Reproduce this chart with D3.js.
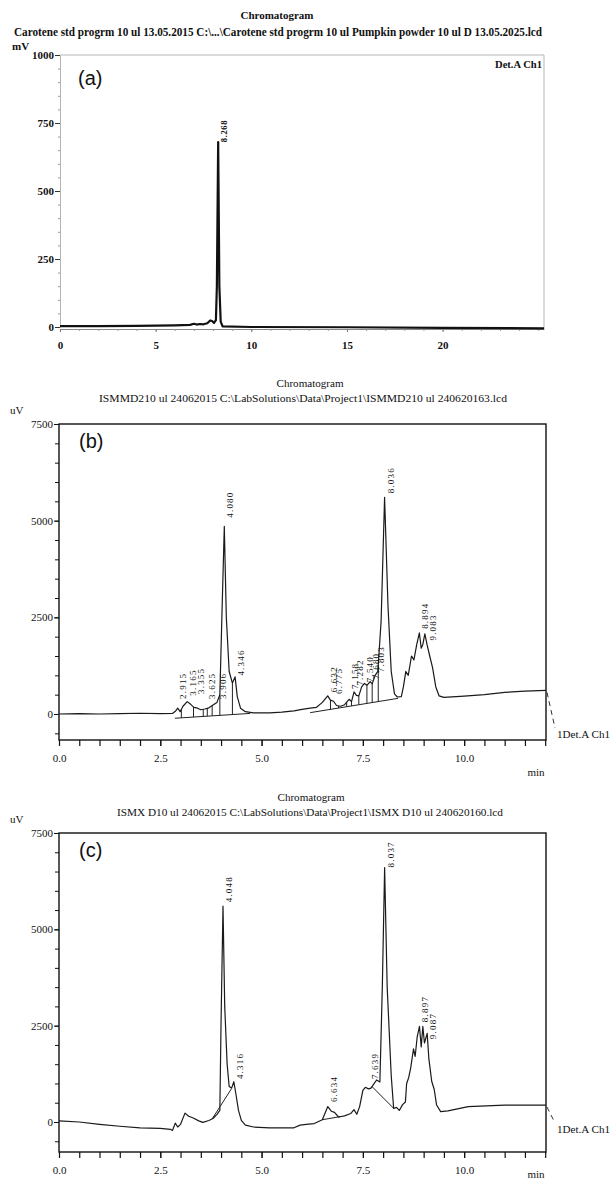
<!DOCTYPE html>
<html>
<head>
<meta charset="utf-8">
<script src="https://cdn.jsdelivr.net/npm/d3@7"></script>
<style>
  body { margin: 0; background: #fff; }
  svg { display: block; }
  text { font-family: "Liberation Serif", "DejaVu Serif", serif; fill: #111; }
  .bold text, text.bold { font-weight: bold; }
  .panel-tag { font-family: "Liberation Sans", Arial, sans-serif; font-size: 20px; }
</style>
</head>
<body>
<svg id="chart" width="611" height="1182"></svg>
<script>
// ---- panel (a): carotene standard, mV ----
const timeA = [0, 2, 4, 5, 6, 6.8, 7.0, 7.15, 7.3, 7.5, 7.7, 7.85, 7.95, 8.05, 8.15, 8.2, 8.268, 8.33, 8.4, 8.5, 10, 15, 20, 25.3];
const mvA   = [3, 3, 4, 5, 6, 8, 12, 9, 11, 10, 14, 24, 22, 15, 25, 150, 680, 150, 20, 2, 0, -1, -3, -5];
const peakRtA = [8.268];
const peakLabelA = [676];
const xTicksA = [0, 5, 10, 15, 20];
const yTicksA = [0, 250, 500, 750, 1000];

// ---- panel (b): ISMMD210, uV ----
const timeB = [0, 0.5, 1.0, 1.5, 2.0, 2.5, 2.8, 2.88, 2.93, 2.99, 3.06, 3.165, 3.25, 3.33, 3.42, 3.5, 3.6, 3.7, 3.8, 3.9, 3.97,
  4.02, 4.08, 4.13, 4.2, 4.28, 4.346, 4.4, 4.48, 4.6, 4.8, 5.2, 5.5, 5.8, 6.0, 6.2, 6.35, 6.5, 6.632, 6.7, 6.775, 6.85, 6.95,
  7.05, 7.158, 7.22, 7.282, 7.34, 7.40, 7.47, 7.54, 7.60, 7.68, 7.73, 7.803, 7.87, 7.95, 8.036, 8.12, 8.2, 8.28, 8.35, 8.45,
  8.5, 8.56, 8.62, 8.7, 8.76, 8.83, 8.894, 8.94, 8.98, 9.03, 9.083, 9.15, 9.22, 9.3, 9.38, 9.5, 10.0, 10.5, 11.0, 11.5, 12.02];
const uvB = [0, 10, 0, 10, 20, 10, 15, 80, 150, 60, 200, 320, 250, 170, 150, 110, 130, 160, 230, 300, 500,
  2500, 4850, 2500, 1100, 800, 960, 450, 150, 60, 30, 30, 50, 80, 120, 150, 170, 300, 470, 360, 330, 220, 200,
  240, 380, 320, 570, 480, 470, 700, 790, 740, 840, 780, 1000, 1100, 2400, 5600, 2800, 1100, 520, 440, 450,
  700, 1100, 1000, 1500, 1400, 1800, 2100, 1700, 1800, 2070, 1800, 1500, 1200, 700, 470, 430, 460, 500, 560, 590, 610];
const peakRtB = [2.915, 3.165, 3.355, 3.625, 3.906, 4.080, 4.346, 6.632, 6.775, 7.158, 7.282, 7.540, 7.680, 7.803, 8.036, 8.894, 9.083];
const peakLabelB = [363, 449, 492, 363, 363, 5050, 967, 535, 492, 622, 708, 795, 881, 1054, 5680, 2176, 1874];
// integration baselines [t0, v0, t1, v1] and drop lines [t, top, bottom]
const baseSegB = [[2.86, -110, 4.72, 15], [6.2, 35, 8.37, 405]];
const dropB = [[3.02, 120, -99], [3.32, 180, -79], [3.56, 120, -63], [3.66, 150, -56], [3.78, 215, -48], [3.97, 500, -35], [4.28, 800, -15],
  [6.70, 360, 120], [6.90, 210, 154], [7.10, 300, 188], [7.22, 320, 209], [7.40, 470, 240], [7.60, 740, 274], [7.73, 780, 296], [7.88, 1260, 322]];

// ---- panel (c): ISMX D10, uV ----
const timeC = [0, 0.5, 1.0, 1.5, 2.0, 2.5, 2.75, 2.8, 2.87, 2.93, 3.0, 3.11, 3.2, 3.3, 3.45, 3.55, 3.7, 3.8, 3.9, 3.97,
  4.0, 4.048, 4.09, 4.15, 4.2, 4.26, 4.316, 4.37, 4.43, 4.5, 4.6, 4.8, 5.2, 5.8, 5.95, 6.1, 6.3, 6.5, 6.634, 6.72, 6.8, 6.9,
  7.05, 7.2, 7.28, 7.35, 7.42, 7.5, 7.56, 7.639, 7.7, 7.78, 7.84, 7.92, 7.98, 8.037, 8.1, 8.2, 8.26, 8.33, 8.4, 8.48, 8.55,
  8.58, 8.63, 8.68, 8.75, 8.79, 8.84, 8.897, 8.94, 8.98, 9.02, 9.087, 9.13, 9.2, 9.26, 9.32, 9.42, 9.6, 10.1, 11.0, 12.02];
const uvC = [30, 0, -60, -110, -150, -165, -190, -220, -30, -130, -60, 230, 150, 110, 30, -10, 40, 90, 200, 300,
  2600, 5600, 3000, 1500, 920, 880, 1045, 700, 300, 40, -80, -130, -150, -150, -80, -60, -40, 60, 400, 280, 250, 130,
  160, 220, 320, 200, 400, 820, 900, 860, 880, 1000, 1090, 1040, 3500, 6600, 3500, 1200, 350, 380, 300, 450, 520,
  1000, 1150, 1400, 1900, 1700, 2200, 2480, 1950, 2480, 2050, 2300, 1630, 1050, 850, 440, 270, 290, 400, 440, 440];
const peakRtC = [4.048, 4.316, 6.634, 7.639, 8.037, 8.897, 9.087];
const peakLabelC = [5674, 1088, 490, 1088, 6580, 2565, 2124];
const baseSegC = [[3.78, 80, 4.26, 870], [6.5, 60, 6.95, 140], [7.73, 915, 8.26, 355]];
const dropC = [];

const xTicksLC = [0, 2.5, 5, 7.5, 10];
const yTicksLC = [0, 2500, 5000, 7500];

const svg = d3.select('#chart');

function addTrace(g, x, y, times, vals, stroke, width) {
  const line = d3.line()
    .x((d, i) => x(times[i]))
    .y(d => y(d));
  g.append('path')
    .datum(vals)
    .attr('d', line)
    .attr('fill', 'none')
    .attr('stroke', stroke)
    .attr('stroke-width', width)
    .attr('stroke-linejoin', 'round');
}

function addPeakLabels(g, x, y, rts, levels, opts) {
  g.selectAll(null)
    .data(rts)
    .join('text')
    .attr('transform', (d, i) => `translate(${x(d) + opts.dx},${y(levels[i]) - 1}) rotate(-90)`)
    .attr('text-anchor', 'start')
    .style('font-size', opts.size + 'px')
    .style('font-weight', opts.bold ? 'bold' : 'normal')
    .style('letter-spacing', opts.spacing + 'px')
    .text(d => d3.format('.3f')(d));
}

// ================= panel (a) =================
(function drawA() {
  const g = svg.append('g');
  const x = d3.scaleLinear().domain([0, 25.3]).range([60, 544]);
  const y = d3.scaleLinear().domain([0, 1000]).range([327, 55]);
  const axisY = 329;

  g.append('text').attr('class', 'bold').attr('x', 277).attr('y', 19)
    .attr('text-anchor', 'middle').style('font-size', '11px')
    .attr('textLength', 73).attr('lengthAdjust', 'spacingAndGlyphs')
    .text('Chromatogram');
  g.append('text').attr('class', 'bold').attr('x', 14).attr('y', 36)
    .style('font-size', '11.5px')
    .attr('textLength', 528).attr('lengthAdjust', 'spacingAndGlyphs')
    .text('Carotene std progrm  10 ul  13.05.2015 C:\\...\\Carotene std progrm  10 ul  Pumpkin powder 10 ul D 13.05.2025.lcd');
  g.append('text').attr('class', 'bold').attr('x', 12).attr('y', 50)
    .style('font-size', '11px').text('mV');

  // frame (faint)
  g.append('path')
    .attr('d', `M${x(0)},${y(1000)}H${x(25.3)}V${axisY}`)
    .attr('fill', 'none').attr('stroke', '#b5b5b5').attr('stroke-width', 1);

  // y axis
  const yMinor = g.append('g').attr('transform', `translate(${x(0)},0)`)
    .call(d3.axisLeft(y).tickValues(d3.range(0, 1001, 50)).tickSize(2).tickSizeOuter(0).tickFormat(''));
  yMinor.select('.domain').attr('stroke', '#b5b5b5');
  yMinor.selectAll('line').attr('stroke', '#999');
  const yMajor = g.append('g').attr('transform', `translate(${x(0)},0)`)
    .call(d3.axisLeft(y).tickValues(yTicksA).tickSize(5).tickSizeOuter(0).tickPadding(1).tickFormat(d3.format('d')));
  yMajor.select('.domain').remove();
  yMajor.selectAll('line').attr('stroke', '#333');
  yMajor.selectAll('text').style('font-size', '11px').style('font-weight', 'bold')
    .style('font-family', '"Liberation Serif", serif').attr('fill', '#111');

  // x axis
  const xMinor = g.append('g').attr('transform', `translate(0,${axisY})`)
    .call(d3.axisBottom(x).tickValues(d3.range(0, 25.3, 1)).tickSize(2).tickSizeOuter(0).tickFormat(''));
  xMinor.select('.domain').attr('stroke', '#888');
  xMinor.selectAll('line').attr('stroke', '#999');
  const xMajor = g.append('g').attr('transform', `translate(0,${axisY})`)
    .call(d3.axisBottom(x).tickValues(xTicksA).tickSize(3).tickSizeOuter(0).tickPadding(9).tickFormat(d3.format('d')));
  xMajor.select('.domain').remove();
  xMajor.selectAll('line').attr('stroke', '#777');
  xMajor.selectAll('text').style('font-size', '11px').style('font-weight', 'bold')
    .style('font-family', '"Liberation Serif", serif').attr('fill', '#111');

  addTrace(g, x, y, timeA, mvA, '#111', 2.2);
  addPeakLabels(g, x, y, peakRtA, peakLabelA, { dx: 9, size: 8.5, bold: true, spacing: 0.6 });

  g.append('text').attr('class', 'bold').attr('x', 542).attr('y', 68)
    .attr('text-anchor', 'end').style('font-size', '10.5px')
    .attr('textLength', 47).attr('lengthAdjust', 'spacingAndGlyphs').text('Det.A Ch1');
  g.append('text').attr('class', 'panel-tag').attr('x', 78).attr('y', 85).text('(a)');
})();

// ================= panels (b) and (c) =================
function drawLC(cfg) {
  const g = svg.append('g');
  const x = d3.scaleLinear().domain([0, 12.02]).range([59, 546]);
  const y = d3.scaleLinear().domain([0, 7500]).range([cfg.zeroY, cfg.top]);
  const left = x(0), right = x(12.02);

  g.append('text').attr('x', cfg.titleX).attr('y', cfg.titleY)
    .attr('text-anchor', 'middle').style('font-size', '11px')
    .attr('textLength', 67).attr('lengthAdjust', 'spacingAndGlyphs').text('Chromatogram');
  g.append('text').attr('x', cfg.subX).attr('y', cfg.titleY + 15)
    .style('font-size', '11px')
    .attr('textLength', cfg.subW).attr('lengthAdjust', 'spacingAndGlyphs').text(cfg.subtitle);
  g.append('text').attr('x', 10).attr('y', cfg.top - 10).style('font-size', '11px').text('uV');

  // y axis ticks every 500 uV, labels at the majors
  const yMinor = g.append('g').attr('transform', `translate(${left},0)`)
    .call(d3.axisLeft(y).tickValues(d3.range(-500, 7501, 500)).tickSize(4).tickSizeOuter(0).tickFormat(''));
  yMinor.select('.domain').remove();
  yMinor.selectAll('line').attr('stroke', '#111');
  const yMajor = g.append('g').attr('transform', `translate(${left},0)`)
    .call(d3.axisLeft(y).tickValues(yTicksLC).tickSize(5).tickSizeOuter(0).tickPadding(1).tickFormat(d3.format('d')));
  yMajor.select('.domain').remove();
  yMajor.selectAll('line').attr('stroke', '#111');
  yMajor.selectAll('text').style('font-size', '11px')
    .style('font-family', '"Liberation Serif", serif').attr('fill', '#111');

  // x axis
  const xMinor = g.append('g').attr('transform', `translate(0,${cfg.bottom})`)
    .call(d3.axisBottom(x).tickValues(d3.range(0, 12.01, 0.5)).tickSize(6).tickSizeOuter(0).tickFormat(''));
  xMinor.select('.domain').remove();
  xMinor.selectAll('line').attr('stroke', '#111').attr('stroke-width', 1.2);
  const xMajor = g.append('g').attr('transform', `translate(0,${cfg.bottom})`)
    .call(d3.axisBottom(x).tickValues(xTicksLC).tickSize(6).tickSizeOuter(0).tickPadding(8).tickFormat(d3.format('.1f')));
  xMajor.select('.domain').remove();
  xMajor.selectAll('line').attr('stroke', '#111');
  xMajor.selectAll('text').style('font-size', '11px')
    .style('font-family', '"Liberation Serif", serif').attr('fill', '#111');
  g.append('text').attr('x', 536).attr('y', cfg.minY).attr('text-anchor', 'middle')
    .style('font-size', '11px').text('min');

  // frame
  g.append('rect').attr('x', left).attr('y', cfg.top)
    .attr('width', right - left).attr('height', cfg.bottom - cfg.top)
    .attr('fill', 'none').attr('stroke', '#111').attr('stroke-width', 1.4);

  // integration baselines and drop lines
  g.selectAll(null).data(cfg.segs).join('line')
    .attr('x1', d => x(d[0])).attr('y1', d => y(d[1]))
    .attr('x2', d => x(d[2])).attr('y2', d => y(d[3]))
    .attr('stroke', '#222').attr('stroke-width', 1);
  g.selectAll(null).data(cfg.drops).join('line')
    .attr('x1', d => x(d[0])).attr('y1', d => y(d[1]))
    .attr('x2', d => x(d[0])).attr('y2', d => y(d[2]))
    .attr('stroke', '#222').attr('stroke-width', 1);

  addTrace(g, x, y, cfg.times, cfg.vals, '#1a1a1a', 1.2);
  addPeakLabels(g, x, y, cfg.rts, cfg.levels, { dx: 9, size: 9, bold: false, spacing: 1.2 });

  // detector tag with dashed leader
  const endY = y(cfg.vals[cfg.vals.length - 1]);
  g.append('line').attr('x1', right + 1).attr('y1', endY + 2)
    .attr('x2', right + 9).attr('y2', cfg.tagY - 10)
    .attr('stroke', '#333').attr('stroke-width', 1).attr('stroke-dasharray', '5,4');
  g.append('text').attr('x', 557).attr('y', cfg.tagY).style('font-size', '11px')
    .attr('textLength', 53).attr('lengthAdjust', 'spacingAndGlyphs').text('1Det.A Ch1');

  g.append('text').attr('class', 'panel-tag').attr('x', 79).attr('y', cfg.top + 24).text(cfg.tag);
}

drawLC({
  top: 424, zeroY: 714, bottom: 740, titleX: 310, titleY: 387, subX: 99, subW: 408,
  subtitle: 'ISMMD210 ul 24062015 C:\\LabSolutions\\Data\\Project1\\ISMMD210 ul 240620163.lcd',
  times: timeB, vals: uvB, rts: peakRtB, levels: peakLabelB, segs: baseSegB, drops: dropB,
  tagY: 738, tag: '(b)', minY: 776
});

drawLC({
  top: 833, zeroY: 1122, bottom: 1152, titleX: 311, titleY: 801, subX: 117, subW: 386,
  subtitle: 'ISMX D10 ul 24062015 C:\\LabSolutions\\Data\\Project1\\ISMX D10 ul 240620160.lcd',
  times: timeC, vals: uvC, rts: peakRtC, levels: peakLabelC, segs: baseSegC, drops: dropC,
  tagY: 1133, tag: '(c)', minY: 1178
});
</script>
</body>
</html>
